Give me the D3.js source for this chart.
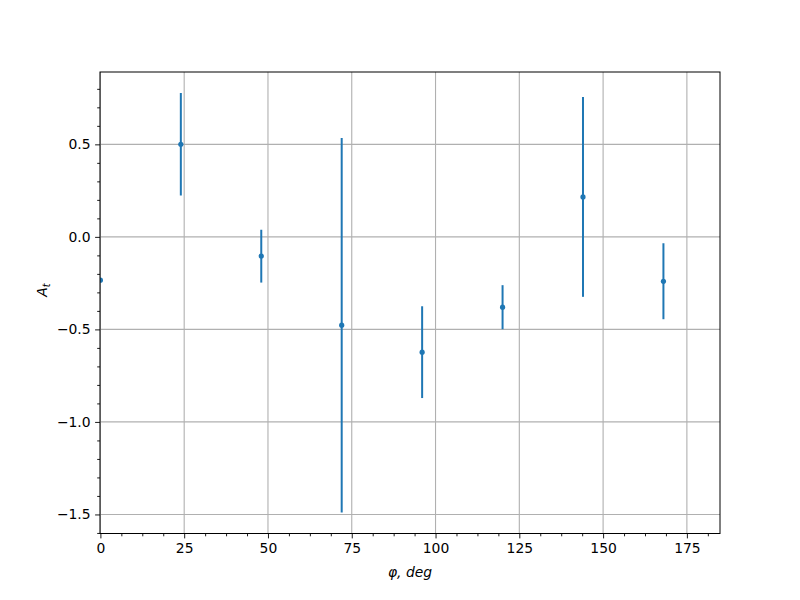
<!DOCTYPE html>
<html><head><meta charset="utf-8">
<script src="https://cdn.jsdelivr.net/npm/d3@7"></script>
<style>body{margin:0;background:#fff}svg{display:block}text{font-family:"DejaVu Sans",sans-serif}</style>
</head><body><svg id="c" width="800" height="600"></svg>
<script>
const phi = [0, 24, 48, 72, 96, 120, 144, 168];
const At = [-0.234, 0.500, -0.104, -0.477, -0.623, -0.380, 0.216, -0.240];
const err = [0.0, 0.277, 0.143, 1.012, 0.248, 0.119, 0.540, 0.205];
const xTicks = [0, 25, 50, 75, 100, 125, 150, 175];
const yTicks = [-1.5, -1.0, -0.5, 0.0, 0.5];

const svg = d3.select("#c");
const L = 100, R = 720, T = 72, B = 533.5;
const x = d3.scaleLinear().domain([0, 185]).range([L + 0.4, R + 0.4]);
const y = d3.scaleLinear().domain([-1.603, 0.891]).range([B, T]);
const fmtY = d => d3.format(".1f")(d).replace("-", "\u2212");

svg.append("defs").append("clipPath").attr("id","clip")
  .append("rect").attr("x",L).attr("y",T).attr("width",R-L).attr("height",B-T);

// grid
const g = svg.append("g");
g.selectAll(".gx").data(xTicks).join("line")
  .attr("x1", d=>x(d)).attr("x2", d=>x(d)).attr("y1", T).attr("y2", B)
  .attr("stroke", "#b0b0b0").attr("stroke-width", 1.1);
g.selectAll(".gy").data(yTicks).join("line")
  .attr("y1", d=>y(d)).attr("y2", d=>y(d)).attr("x1", L).attr("x2", R)
  .attr("stroke", "#b0b0b0").attr("stroke-width", 1.1);

// data
const d = phi.map((p,i)=>({p, v:At[i], e:err[i]}));
const pg = svg.append("g").attr("clip-path","url(#clip)");
pg.selectAll(".eb").data(d.filter(d=>d.e>0)).join("line")
  .attr("x1", d=>x(d.p)).attr("x2", d=>x(d.p))
  .attr("y1", d=>y(d.v - d.e)).attr("y2", d=>y(d.v + d.e))
  .attr("stroke", "#1f77b4").attr("stroke-width", 2);
pg.selectAll(".pt").data(d).join("circle")
  .attr("cx", d=>x(d.p)).attr("cy", d=>y(d.v)).attr("r", 2.6)
  .attr("fill", "#1f77b4");

// axes
const xAxis = d3.axisBottom(x).tickValues(xTicks).tickFormat(d3.format("d")).tickSize(4.9).tickPadding(4.5);
const xMinor = d3.axisBottom(x).tickValues(d3.range(0, 185, 6.25).filter(v=>v%25!==0)).tickFormat("").tickSize(2.8);
const yAxis = d3.axisLeft(y).tickValues(yTicks).tickFormat(fmtY).tickSize(4.9).tickPadding(4.5);
const yMinor = d3.axisLeft(y).tickValues(d3.range(-16, 9).map(v=>v/10).filter(v=>Math.abs(Math.round(v*10))%5!==0)).tickFormat("").tickSize(2.8);

function style(sel){
  sel.select(".domain").remove();
  sel.selectAll("line").attr("stroke","#000").attr("stroke-width",0.9);
  sel.selectAll("text").attr("fill","#000").style("font-size","13.9px").style("font-family","'DejaVu Sans',sans-serif");
}
svg.append("g").attr("transform",`translate(0,${B})`).call(xAxis).call(style);
svg.append("g").attr("transform",`translate(0,${B})`).call(xMinor).call(style);
svg.append("g").attr("transform",`translate(${L},0)`).call(yAxis).call(style);
svg.append("g").attr("transform",`translate(${L},0)`).call(yMinor).call(style);

// frame
svg.append("rect").attr("x",L).attr("y",T).attr("width",R-L).attr("height",B-T)
  .attr("fill","none").attr("stroke","#000").attr("stroke-width",1);

// labels
svg.append("text").attr("x", (L+R)/2).attr("y", 577).attr("text-anchor","middle")
  .style("font-size","13.9px").style("font-style","italic").text("φ, deg");
const yl = svg.append("text").attr("transform","translate(47,290) rotate(-90)").attr("text-anchor","middle")
  .style("font-size","13.9px").style("font-style","italic");
yl.append("tspan").text("A");
yl.append("tspan").attr("dy",3).style("font-size","9.7px").text("t");
</script></body></html>
